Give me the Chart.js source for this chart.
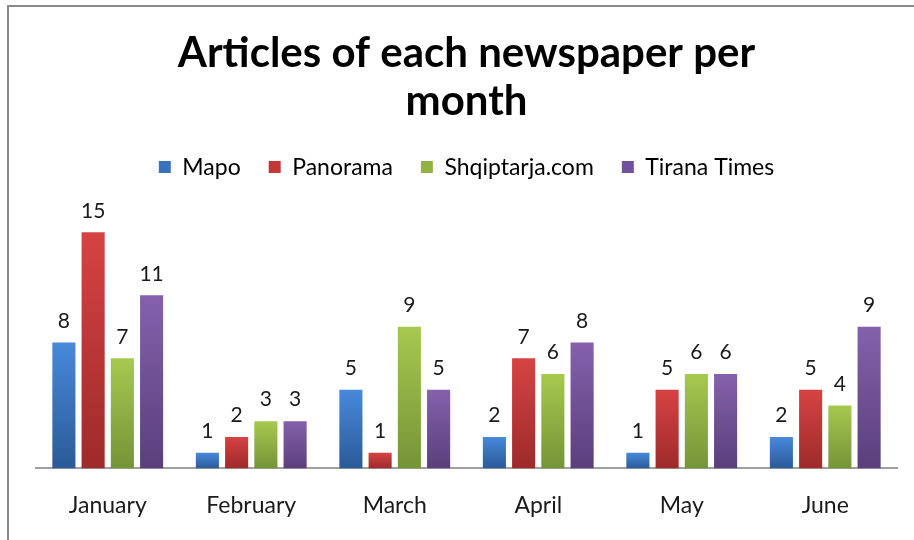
<!DOCTYPE html>
<html>
<head>
<meta charset="utf-8">
<script src="https://cdn.jsdelivr.net/npm/chart.js@4/dist/chart.umd.min.js"></script>
<style>
  html, body { margin: 0; padding: 0; background: #fff; }
  #wrap { position: relative; width: 914px; height: 540px; overflow: hidden; }
  #frame { position: absolute; left: 7px; top: 5px; width: 930px; height: 600px;
           border-left: 2px solid #8a8a8a; border-top: 2px solid #8a8a8a; }
  canvas { position: absolute; left: 0; top: 0; }
</style>
</head>
<body>
<div id="wrap">
  <div id="frame"></div>
  <canvas id="chart" width="914" height="540"></canvas>
</div>
<script>
// data
const months = ["January", "February", "March", "April", "May", "June"];
const mapo = [8, 1, 5, 2, 1, 2];
const panorama = [15, 2, 1, 7, 5, 5];
const shqiptarja = [7, 3, 9, 6, 6, 4];
const tiranaTimes = [11, 3, 5, 8, 6, 9];

const seriesNames = ["Mapo", "Panorama", "Shqiptarja.com", "Tirana Times"];
const seriesColors = [
  { top: "#4889db", bottom: "#2a5a98", flat: "#3a72bd" },
  { top: "#d64343", bottom: "#9e2a2a", flat: "#c23838" },
  { top: "#a6c94f", bottom: "#759437", flat: "#92b344" },
  { top: "#8561ac", bottom: "#5a3f7c", flat: "#7050a0" },
];

const FONT = "Lato, 'Open Sans', sans-serif";

// every bar gets its own top-to-bottom gradient (scriptable, so options are not shared)
function barFill(i) {
  return (c) => {
    const chart = c.chart;
    const y = chart.scales.y;
    if (!chart.chartArea || !y || c.raw === undefined) return seriesColors[i].flat;
    const top = y.getPixelForValue(c.raw);
    const base = y.getPixelForValue(0);
    if (!isFinite(top) || !isFinite(base) || top === base) return seriesColors[i].flat;
    const g = chart.ctx.createLinearGradient(0, top, 0, base);
    g.addColorStop(0, seriesColors[i].top);
    g.addColorStop(1, seriesColors[i].bottom);
    return g;
  };
}

// value labels above each bar
const valueLabels = {
  id: "valueLabels",
  afterDatasetsDraw(chart) {
    const ctx = chart.ctx;
    ctx.save();
    ctx.font = "21px " + FONT;
    ctx.fillStyle = "#1a1a1a";
    ctx.textAlign = "center";
    ctx.textBaseline = "bottom";
    chart.data.datasets.forEach((ds, i) => {
      chart.getDatasetMeta(i).data.forEach((bar, j) => {
        ctx.fillText(String(ds.data[j]), bar.x, bar.y - 11);
      });
    });
    ctx.restore();
  },
};

// leave some room between the legend and the bars
const legendGap = {
  id: "legendGap",
  beforeInit(chart) {
    const fit = chart.legend.fit;
    chart.legend.fit = function () {
      fit.call(this);
      this.height += 28;
    };
  },
};

const allSeries = [mapo, panorama, shqiptarja, tiranaTimes];

new Chart(document.getElementById("chart"), {
  type: "bar",
  data: {
    labels: months,
    datasets: allSeries.map((vals, i) => ({
      label: seriesNames[i],
      data: vals,
      backgroundColor: barFill(i),
      borderWidth: 0,
      barPercentage: 0.79,
      categoryPercentage: 0.815,
    })),
  },
  options: {
    responsive: false,
    animation: false,
    layout: { padding: { left: 36, right: 17, top: 29, bottom: 6 } },
    plugins: {
      title: {
        display: true,
        text: ["Articles of each newspaper per", "month"],
        font: { family: FONT, size: 42, weight: "bold", lineHeight: 1.15 },
        color: "#000",
        padding: { top: 0, bottom: 2 },
      },
      legend: {
        position: "top",
        labels: {
          font: { family: FONT, size: 23 },
          color: "#1a1a1a",
          boxWidth: 12,
          boxHeight: 12,
          padding: 28,
          generateLabels(chart) {
            return seriesNames.map((n, i) => ({
              text: n,
              fillStyle: seriesColors[i].flat,
              strokeStyle: seriesColors[i].flat,
              lineWidth: 0,
              datasetIndex: i,
            }));
          },
        },
      },
      tooltip: { enabled: false },
    },
    scales: {
      x: {
        grid: { display: false },
        border: { display: true, color: "#a0a0a0", width: 2 },
        ticks: { font: { family: FONT, size: 23 }, color: "#1a1a1a", padding: 15 },
      },
      y: {
        display: false,
        min: 0,
        max: 16,
      },
    },
  },
  plugins: [valueLabels, legendGap],
});
</script>
</body>
</html>
